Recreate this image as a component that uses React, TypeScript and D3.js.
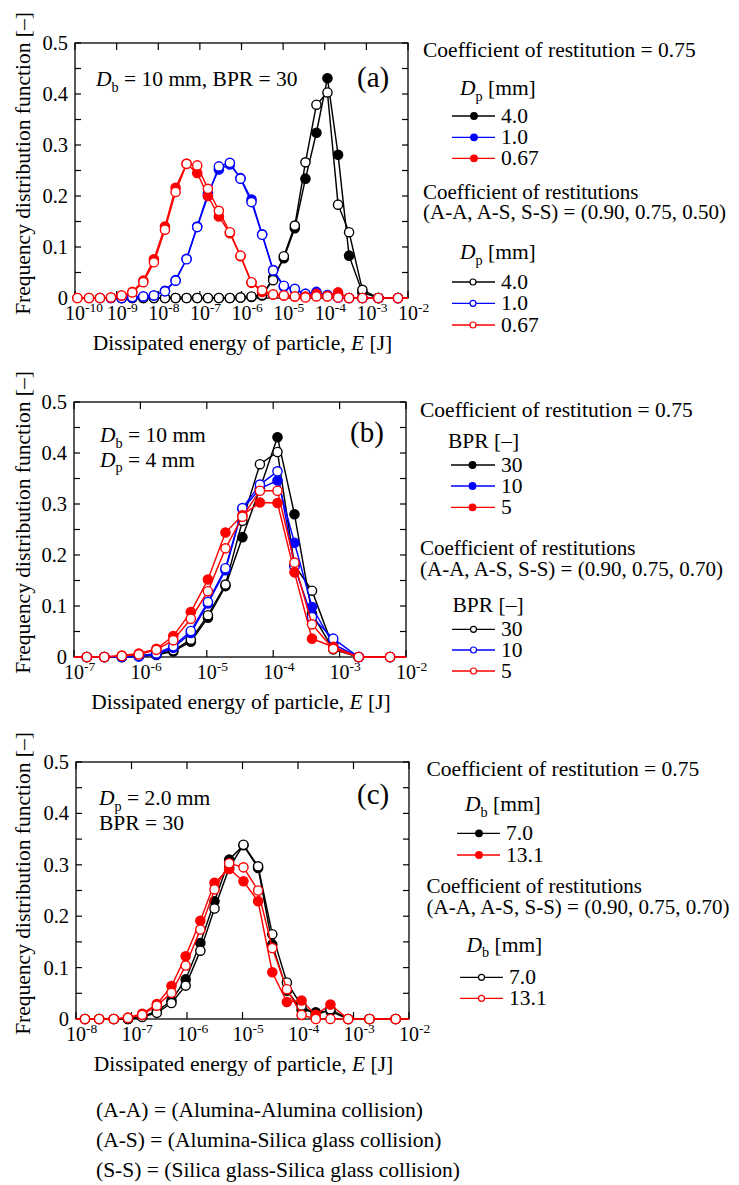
import React, { useEffect, useRef } from "react";
import * as d3 from "d3";

// energy bins [J] (shared by the three panels)
const binEnergy = [
  1.14e-10, 2.17e-10, 3.98e-10, 7.31e-10, 1.32e-9, 2.38e-9, 4.37e-9, 7.87e-9,
  1.45e-8, 2.61e-8, 4.79e-8, 8.63e-8, 1.56e-7, 2.86e-7, 5.25e-7, 9.46e-7,
  1.74e-6, 3.13e-6, 5.75e-6, 1.04e-5, 1.91e-5, 3.44e-5, 6.31e-5, 1.16e-4,
  2.09e-4, 3.84e-4, 8.02e-4, 1.94e-3, 5.75e-3, 2.0e-2,
];
const energyA = binEnergy;
const energyB = binEnergy.slice(11);
const energyC = binEnergy.slice(7);

// (a) Dp = 4.0 / 1.0 / 0.67 mm
const aBlackFilled = [null, null, null, null, 0, 0, 0, 0, 0, 0, 0, 0, 0, 0, 0, 0.001, 0.002, 0.005, 0.039, 0.078, 0.137, 0.234, 0.324, 0.431, 0.281, 0.083, 0.011, 0, 0, 0];
const aBlackOpen = [null, null, null, null, 0, 0, 0, 0, 0, 0, 0, 0, 0, 0, 0, 0.001, 0.003, 0.006, 0.035, 0.082, 0.142, 0.266, 0.379, 0.403, 0.183, 0.129, 0.016, 0, 0, 0];
const aBlueFilled = [null, null, 0, 0, 0, 0.001, 0.003, 0.005, 0.014, 0.035, 0.077, 0.14, 0.205, 0.252, 0.262, 0.235, 0.193, 0.125, 0.055, 0.022, 0.016, 0.008, 0.012, 0.006, 0.002, 0, 0, 0, 0, 0];
const aBlueOpen = [null, null, 0, 0, 0, 0.002, 0.003, 0.005, 0.013, 0.034, 0.076, 0.139, 0.2, 0.258, 0.265, 0.234, 0.188, 0.124, 0.054, 0.024, 0.018, 0.008, 0.01, 0.005, 0.001, 0, 0, 0, 0, 0];
const aRedFilled = [0, 0, 0, 0.001, 0.005, 0.012, 0.034, 0.076, 0.14, 0.216, 0.263, 0.245, 0.2, 0.16, 0.127, 0.082, 0.03, 0.012, 0.007, 0.005, 0.003, 0.003, 0.008, 0.004, 0.011, 0, 0, 0, 0, 0];
const aRedOpen = [0, 0, 0, 0.001, 0.005, 0.011, 0.031, 0.07, 0.134, 0.208, 0.263, 0.26, 0.214, 0.171, 0.129, 0.083, 0.031, 0.015, 0.007, 0.005, 0.003, 0.001, 0.003, 0.003, 0.001, 0, 0, 0, 0, 0];

// (b) BPR = 30 / 10 / 5
const bBlackFilled = [0, 0, 0, 0, 0.002, 0.004, 0.011, 0.03, 0.077, 0.139, 0.235, 0.33, 0.431, 0.28, 0.085, 0.015, 0, 0, 0];
const bBlackOpen = [0, 0, 0, 0, 0.003, 0.005, 0.013, 0.034, 0.082, 0.142, 0.267, 0.378, 0.402, 0.18, 0.13, 0.018, 0, 0, 0];
const bBlueFilled = [0, 0, 0, 0, 0.001, 0.005, 0.018, 0.047, 0.105, 0.17, 0.29, 0.33, 0.346, 0.224, 0.098, 0.025, 0, 0, 0];
const bBlueOpen = [0, 0, 0, 0, 0.002, 0.007, 0.021, 0.051, 0.108, 0.174, 0.292, 0.338, 0.364, 0.177, 0.078, 0.036, 0, 0, 0];
const bRedFilled = [0, 0, 0, 0.003, 0.007, 0.016, 0.041, 0.088, 0.152, 0.244, 0.278, 0.303, 0.302, 0.166, 0.036, 0.02, 0, 0, 0];
const bRedOpen = [0, 0, 0, 0.002, 0.005, 0.014, 0.033, 0.075, 0.129, 0.213, 0.275, 0.326, 0.326, 0.185, 0.064, 0.016, 0, 0, 0];

// (c) Db = 7.0 / 13.1 mm
const cBlackFilled = [0, 0, 0, 0, 0, 0.005, 0.015, 0.036, 0.077, 0.148, 0.229, 0.31, 0.338, 0.294, 0.145, 0.055, 0.018, 0.013, 0.015, 0, 0, 0, 0];
const cBlackOpen = [0, 0, 0, 0, 0, 0.004, 0.012, 0.031, 0.065, 0.133, 0.215, 0.294, 0.339, 0.297, 0.165, 0.071, 0.026, 0.008, 0.019, 0, 0, 0, 0];
const cRedFilled = [0, 0, 0, 0, 0.003, 0.01, 0.029, 0.064, 0.122, 0.191, 0.265, 0.292, 0.268, 0.229, 0.091, 0.033, 0.036, 0.008, 0.028, 0, 0, 0, 0];
const cRedOpen = [0, 0, 0, 0, 0.002, 0.008, 0.026, 0.051, 0.104, 0.174, 0.252, 0.303, 0.295, 0.25, 0.138, 0.058, 0.008, 0, 0, 0, 0, 0, 0];

const yMajorTicks = [0, 0.1, 0.2, 0.3, 0.4, 0.5];
const yMinorTicks = [0.05, 0.15, 0.25, 0.35, 0.45];
const decadesA = [-10, -9, -8, -7, -6, -5, -4, -3, -2];
const decadesB = [-7, -6, -5, -4, -3, -2];
const decadesC = [-8, -7, -6, -5, -4, -3, -2];

const legendA = ["4.0", "1.0", "0.67"];
const legendB = ["30", "10", "5"];
const legendC = ["7.0", "13.1"];

const footerLines = [
  "(A-A) = (Alumina-Alumina collision)",
  "(A-S) = (Alumina-Silica glass collision)",
  "(S-S) = (Silica glass-Silica glass collision)",
];

const BLACK = "#000000", BLUE = "#0000ff", RED = "#ff0000";
const FONT = "'Liberation Serif', 'Times New Roman', Times, serif";
const FS = 21.5;

// text made of parts: {t, it?, sub?}
function rich(g, x, y, parts, size, anchor = "start") {
  const t = g.append("text").attr("x", x).attr("y", y).attr("font-size", size)
    .attr("font-family", FONT).attr("text-anchor", anchor).attr("fill", "#000");
  let off = 0;
  parts.forEach((p) => {
    const target = p.sub ? size * 0.26 : 0;
    const ts = t.append("tspan").text(p.t).attr("dy", target - off);
    off = target;
    if (p.it) ts.attr("font-style", "italic");
    if (p.sub) ts.attr("font-size", size * 0.66);
  });
  return t;
}

function drawPanel(svg, p) {
  const g = svg.append("g");
  const domain = [Math.pow(10, p.decades[0]), Math.pow(10, p.decades[p.decades.length - 1])];
  const x = d3.scaleLog().domain(domain).range([p.left, p.right]);
  const y = d3.scaleLinear().domain([0, 0.5]).range([p.bottom, p.top]);

  const clipId = "clip-" + p.id;
  g.append("clipPath").attr("id", clipId).append("rect")
    .attr("x", p.left).attr("y", p.top - 20)
    .attr("width", p.right - p.left).attr("height", p.bottom - p.top + 22);

  // frame
  g.append("rect").attr("x", p.left).attr("y", p.top)
    .attr("width", p.right - p.left).attr("height", p.bottom - p.top)
    .attr("fill", "none").attr("stroke", "#000").attr("stroke-width", 1.3);

  // y ticks, inward on both sides
  yMajorTicks.concat(yMinorTicks).forEach((v) => {
    g.append("line").attr("x1", p.left).attr("x2", p.left + 6).attr("y1", y(v)).attr("y2", y(v)).attr("stroke", "#000").attr("stroke-width", 1.2);
    g.append("line").attr("x1", p.right).attr("x2", p.right - 6).attr("y1", y(v)).attr("y2", y(v)).attr("stroke", "#000").attr("stroke-width", 1.2);
  });
  yMajorTicks.forEach((v) => {
    g.append("text").attr("x", p.left - 7).attr("y", y(v) + 7)
      .attr("text-anchor", "end").attr("font-size", 20.5).attr("font-family", FONT)
      .text(v === 0 ? "0" : d3.format(".1f")(v));
  });

  // x ticks at decades
  p.decades.forEach((d) => {
    const xv = x(Math.pow(10, d));
    g.append("line").attr("x1", xv).attr("x2", xv).attr("y1", p.top).attr("y2", p.top + 7).attr("stroke", "#000").attr("stroke-width", 1.2);
    g.append("line").attr("x1", xv).attr("x2", xv).attr("y1", p.bottom).attr("y2", p.bottom - 7).attr("stroke", "#000").attr("stroke-width", 1.2);
    const t = g.append("text").attr("x", xv - 10).attr("y", p.bottom + 22)
      .attr("font-size", 20).attr("font-family", FONT);
    t.append("tspan").text("10");
    t.append("tspan").text(String(d)).attr("font-size", 13.5).attr("dy", -8.5);
  });

  // series
  const line = d3.line().x((d) => x(d[0])).y((d) => y(d[1]));
  p.series.forEach((s) => {
    const pts = p.energy.map((e, i) => [e, s.values[i]]).filter((d) => d[1] !== null && d[1] !== undefined);
    g.append("path").attr("d", line(pts)).attr("fill", "none")
      .attr("stroke", s.color).attr("stroke-width", 1.45)
      .attr("clip-path", `url(#${clipId})`);
    const inside = pts.filter((d) => d[0] >= domain[0] && d[0] <= domain[1]);
    g.selectAll(null).data(inside).join("circle")
      .attr("cx", (d) => x(d[0])).attr("cy", (d) => y(d[1])).attr("r", 4.6)
      .attr("fill", s.filled ? s.color : "#fff")
      .attr("stroke", s.color).attr("stroke-width", 1.4);
  });

  // notes inside the frame
  p.notes.forEach((n) => rich(g, n.x, n.y, n.parts, n.size || FS));

  // axis titles
  const cy = (p.top + p.bottom) / 2 - 7;
  g.append("text").attr("transform", `translate(30,${cy}) rotate(-90)`)
    .attr("text-anchor", "middle").attr("font-size", FS).attr("font-family", FONT)
    .text("Frequency distribution function [–]");
  rich(g, (p.left + p.right) / 2 + 1, p.bottom + 52,
    [{ t: "Dissipated energy of particle, " }, { t: "E", it: true }, { t: " [J]" }], FS, "middle");

  // legend
  const L = p.legend;
  rich(g, L.x, L.h1, [{ t: "Coefficient of restitution = 0.75" }], FS);
  rich(g, L.x, L.h2, [{ t: "Coefficient of restitutions" }], 21);
  rich(g, L.x, L.h2 + 20.5, [{ t: L.coef }], 21);
  L.groups.forEach((grp, gi) => {
    rich(g, grp.tx, grp.ty, L.title, FS);
    grp.rows.forEach((ry, i) => {
      const color = L.colors[i];
      g.append("line").attr("x1", grp.x1).attr("x2", grp.x2).attr("y1", ry).attr("y2", ry)
        .attr("stroke", color).attr("stroke-width", 1.3);
      g.append("circle").attr("cx", grp.mx).attr("cy", ry).attr("r", gi === 0 ? 3.3 : 3)
        .attr("fill", gi === 0 ? color : "#fff").attr("stroke", color).attr("stroke-width", 1.2);
      rich(g, grp.x2 + 6, ry + 7, [{ t: L.labels[i] }], FS);
    });
  });
}

const panels = [
  {
    id: "a", left: 75, right: 408, top: 43, bottom: 298, decades: decadesA, energy: energyA,
    series: [
      { values: aBlackFilled, color: BLACK, filled: true },
      { values: aBlackOpen, color: BLACK, filled: false },
      { values: aBlueFilled, color: BLUE, filled: true },
      { values: aBlueOpen, color: BLUE, filled: false },
      { values: aRedFilled, color: RED, filled: true },
      { values: aRedOpen, color: RED, filled: false },
    ],
    notes: [
      { x: 96, y: 86, parts: [{ t: "D", it: true }, { t: "b", sub: true }, { t: " = 10 mm, BPR = 30" }] },
      { x: 357, y: 87, parts: [{ t: "(a)" }], size: 29 },
    ],
    legend: {
      x: 423, h1: 56.5, h2: 198.5, coef: "(A-A, A-S, S-S) = (0.90, 0.75, 0.50)",
      title: [{ t: "D", it: true }, { t: "p", sub: true }, { t: " [mm]" }],
      labels: legendA, colors: [BLACK, BLUE, RED],
      groups: [
        { tx: 460, ty: 95, rows: [116, 137.3, 158.3], x1: 452, x2: 495, mx: 474 },
        { tx: 460, ty: 259, rows: [282, 303.3, 325], x1: 452, x2: 495, mx: 473 },
      ],
    },
  },
  {
    id: "b", left: 74, right: 406, top: 402, bottom: 657, decades: decadesB, energy: energyB,
    series: [
      { values: bBlackFilled, color: BLACK, filled: true },
      { values: bBlackOpen, color: BLACK, filled: false },
      { values: bBlueFilled, color: BLUE, filled: true },
      { values: bBlueOpen, color: BLUE, filled: false },
      { values: bRedFilled, color: RED, filled: true },
      { values: bRedOpen, color: RED, filled: false },
    ],
    notes: [
      { x: 100, y: 442, parts: [{ t: "D", it: true }, { t: "b", sub: true }, { t: " = 10 mm" }] },
      { x: 100, y: 466.5, parts: [{ t: "D", it: true }, { t: "p", sub: true }, { t: " = 4 mm" }] },
      { x: 350, y: 442, parts: [{ t: "(b)" }], size: 29 },
    ],
    legend: {
      x: 420, h1: 416.5, h2: 555, coef: "(A-A, A-S, S-S) = (0.90, 0.75, 0.70)",
      title: [{ t: "BPR [–]" }],
      labels: legendB, colors: [BLACK, BLUE, RED],
      groups: [
        { tx: 448, ty: 448, rows: [465, 486, 507.3], x1: 451, x2: 495, mx: 472.5 },
        { tx: 452.5, ty: 611.5, rows: [629.3, 650, 671], x1: 452, x2: 495, mx: 473.5 },
      ],
    },
  },
  {
    id: "c", left: 76, right: 409, top: 762, bottom: 1019, decades: decadesC, energy: energyC,
    series: [
      { values: cBlackFilled, color: BLACK, filled: true },
      { values: cBlackOpen, color: BLACK, filled: false },
      { values: cRedFilled, color: RED, filled: true },
      { values: cRedOpen, color: RED, filled: false },
    ],
    notes: [
      { x: 99, y: 805, parts: [{ t: "D", it: true }, { t: "p", sub: true }, { t: " = 2.0 mm" }] },
      { x: 99, y: 830, parts: [{ t: "BPR = 30" }] },
      { x: 357, y: 804, parts: [{ t: "(c)" }], size: 29 },
    ],
    legend: {
      x: 426.5, h1: 776, h2: 893, coef: "(A-A, A-S, S-S) = (0.90, 0.75, 0.70)",
      title: [{ t: "D", it: true }, { t: "b", sub: true }, { t: " [mm]" }],
      labels: legendC, colors: [BLACK, RED],
      groups: [
        { tx: 465, ty: 811, rows: [833.3, 855], x1: 457, x2: 500, mx: 479 },
        { tx: 466.5, ty: 951.5, rows: [977.3, 998.3], x1: 460, x2: 503, mx: 481.5 },
      ],
    },
  },
];

export default function App() {
  const ref = useRef<SVGSVGElement>(null);

  useEffect(() => {
    const svg = d3.select(ref.current);
    svg.selectAll("*").remove();
    panels.forEach((p) => drawPanel(svg, p));
    footerLines.forEach((t, i) => {
      svg.append("text").attr("x", 96).attr("y", 1117 + i * 30)
        .attr("font-size", FS).attr("font-family", FONT).text(t);
    });
  }, []);

  return (
    <svg ref={ref} width={739} height={1185}
      style={{ position: "absolute", left: 0, top: 0, background: "#fff" }} />
  );
}
